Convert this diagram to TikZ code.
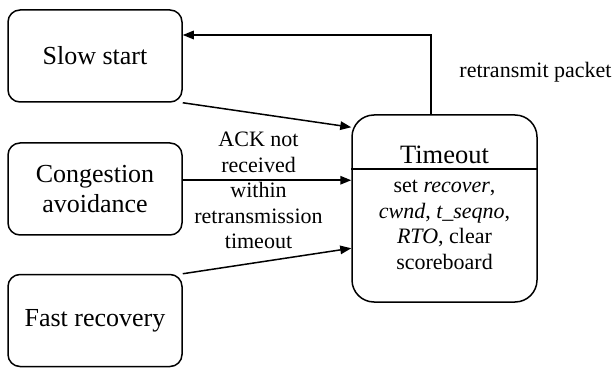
\documentclass[tikz,border=0pt]{standalone}
\usepackage{fontspec}
\setmainfont{Liberation Serif}
\usetikzlibrary{arrows.meta,calc}
\begin{document}
\begin{tikzpicture}[x=1pt,y=-1pt,line width=1.5pt,
  state/.style={draw,rounded corners=12pt,minimum width=174pt,minimum height=92pt,
    align=center,inner sep=0pt,font=\fontsize{26}{30}\selectfont},
  link/.style={-{Triangle[length=11pt,width=8.5pt]}},
  small/.style={align=center,inner sep=0pt,font=\fontsize{22}{25.5}\selectfont}]
\useasboundingbox (0,0) rectangle (615,371);

% the three source states
\node[state] (ss) at (95,56) {Slow start};
\node[state] (ca) at (95,189) {Congestion\\avoidance};
\node[state] (fr) at (95,320.5) {Fast recovery};

% the timeout state, with its title and action compartments
\node[draw,rounded corners=22pt,minimum width=185pt,minimum height=187pt,inner sep=0pt] (to) at (444.5,208.5) {};
\coordinate (dv) at (0,169);
\draw (to.west |- dv) -- (to.east |- dv);
\node[inner sep=0pt,font=\fontsize{26.5}{30}\selectfont] (tt) at (444.5,155) {Timeout};
\node[small] (tb) at (444.5,225) {set \textit{recover},\\\textit{cwnd}, \textit{t\_seqno},\\\textit{RTO}, clear\\scoreboard};

% transitions into the timeout state
\coordinate (e1) at ([yshift=-13pt]to.north west);
\coordinate (e2) at ([yshift=-66pt]to.north west);
\coordinate (e3) at ([yshift=-134pt]to.north west);
\draw[link] (ss.south east) -- (e1);
\draw[link] (ca.east |- e2) -- (e2);
\draw[link] (fr.north east) -- (e3);
\node[small] (lbl) at (258.5,190.5) {ACK not\\received\\within\\retransmission\\timeout};

% return to slow start
\coordinate (up) at (431,35);
\draw[link] (up |- to.north) -- (up) -- (ss.east |- up);
\node[small] (rp) at (535.5,72) {retransmit packet};
\end{tikzpicture}
\end{document}
